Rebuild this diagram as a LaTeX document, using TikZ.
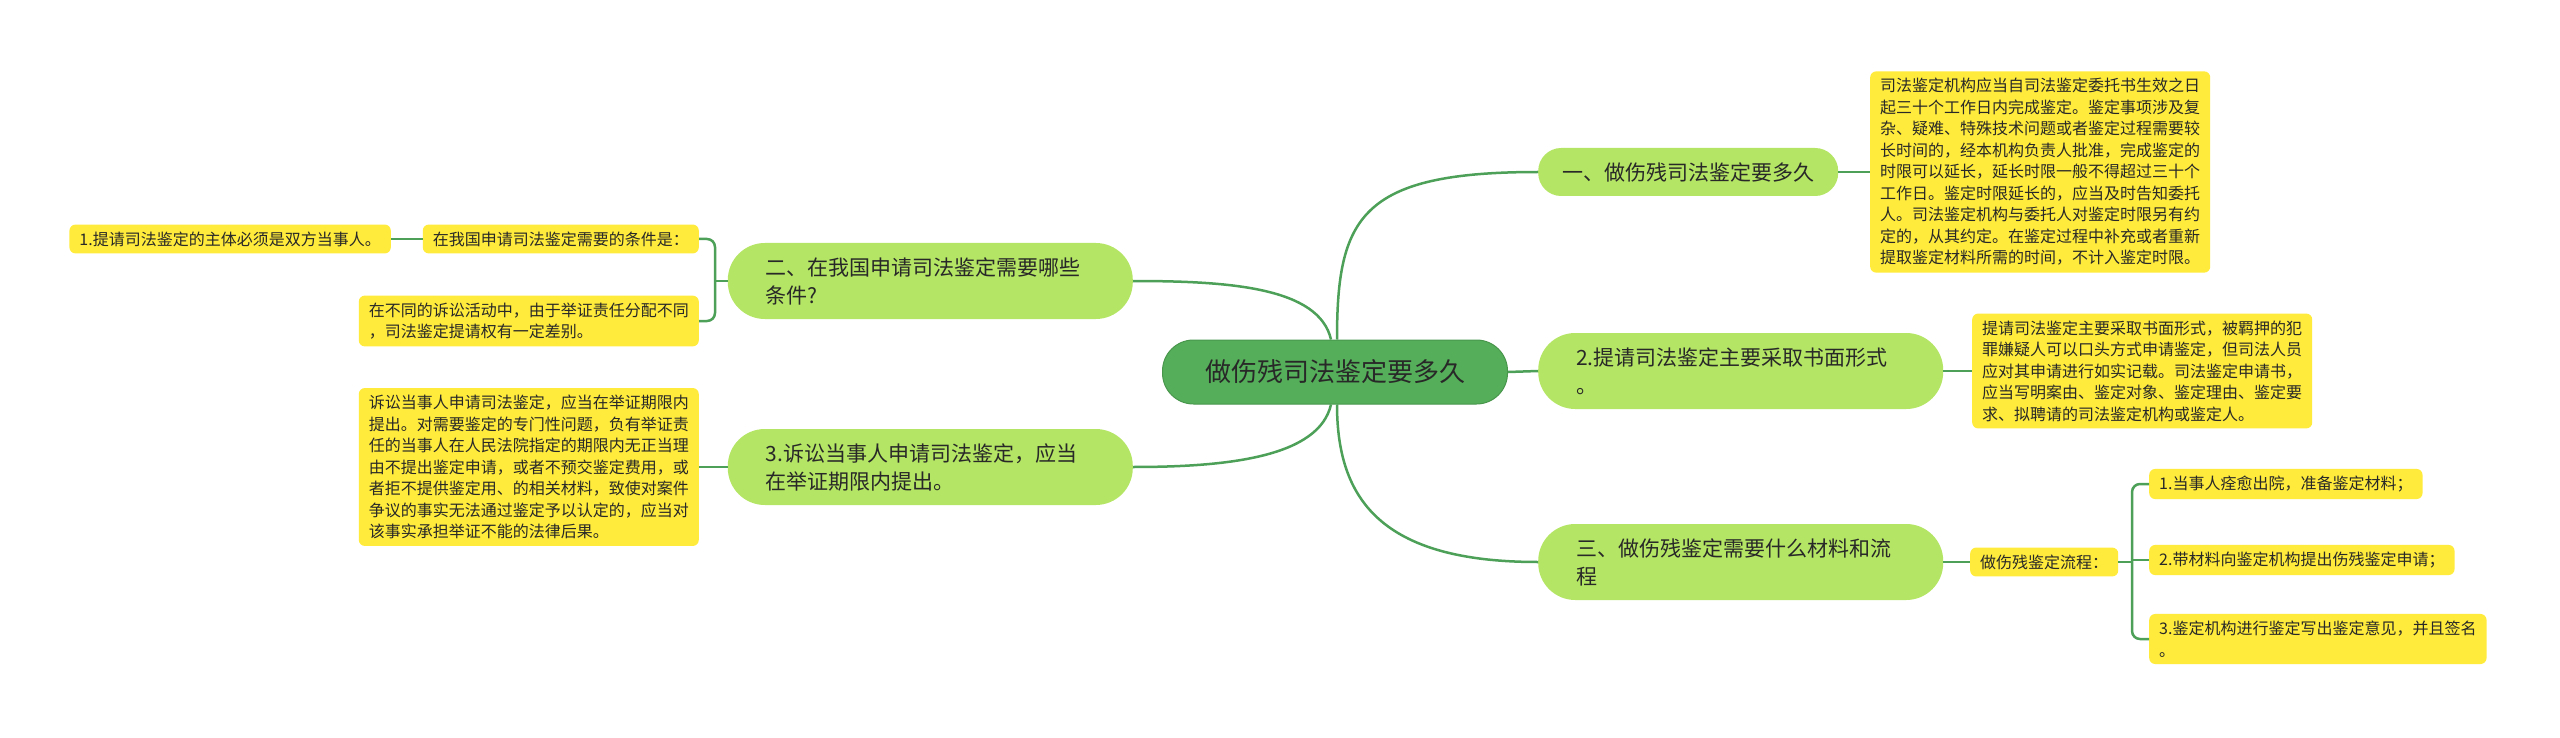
\documentclass[tikz,border=0pt]{standalone}
\usepackage{fontspec}
\setmainfont{Noto Sans CJK SC}
\definecolor{lineg}{RGB}{76,160,88}
\definecolor{rootg}{RGB}{85,175,90}
\definecolor{maing}{RGB}{180,229,100}
\definecolor{yel}{RGB}{255,235,59}
\definecolor{txt}{RGB}{40,40,40}
\begin{document}
\begin{tikzpicture}[x=1pt,y=-1pt,
 root/.style={draw=rootg!85!black, line width=1pt, fill=rootg, rounded corners=31pt, minimum width=345pt, minimum height=64pt, inner sep=0pt, font=\fontsize{26}{32}\selectfont, text=txt},
 mainone/.style={fill=maing, rounded corners=23pt, minimum height=48pt, inner xsep=24pt, inner ysep=0pt, font=\fontsize{21}{28}\selectfont, text=txt},
 maintwo/.style={fill=maing, rounded corners=37pt, minimum height=76pt, inner xsep=38pt, inner ysep=0pt, text width=329pt, align=left, font=\fontsize{21}{28}\selectfont, text=txt},
 leaf/.style={fill=yel, rounded corners=6pt, inner xsep=10pt, inner ysep=7pt, align=left, font=\fontsize{16}{21.5}\selectfont, text=txt},
 conn/.style={draw=lineg, line width=2.5pt},
]
\useasboundingbox (0,0) rectangle (2560,738);
% main nodes
\node[root] (root) at (1335,372) {做伤残司法鉴定要多久};
\node[mainone, anchor=west] (n1) at (1538,172) {一、做伤残司法鉴定要多久};
\node[maintwo, anchor=west] (n2) at (1538,371) {2.提请司法鉴定主要采取书面形式\\。};
\node[maintwo, anchor=west] (n3) at (1538,562) {三、做伤残鉴定需要什么材料和流\\程};
\node[maintwo, anchor=east] (n4) at (1133,281) {二、在我国申请司法鉴定需要哪些\\条件?};
\node[maintwo, anchor=east] (n5) at (1133,467) {3.诉讼当事人申请司法鉴定，应当\\在举证期限内提出。};
% right leaves
\node[leaf, anchor=west] (d1) at (1870,172) {司法鉴定机构应当自司法鉴定委托书生效之日\\起三十个工作日内完成鉴定。鉴定事项涉及复\\杂、疑难、特殊技术问题或者鉴定过程需要较\\长时间的，经本机构负责人批准，完成鉴定的\\时限可以延长，延长时限一般不得超过三十个\\工作日。鉴定时限延长的，应当及时告知委托\\人。司法鉴定机构与委托人对鉴定时限另有约\\定的，从其约定。在鉴定过程中补充或者重新\\提取鉴定材料所需的时间，不计入鉴定时限。};
\node[leaf, anchor=west] (d2) at (1972,371) {提请司法鉴定主要采取书面形式，被羁押的犯\\罪嫌疑人可以口头方式申请鉴定，但司法人员\\应对其申请进行如实记载。司法鉴定申请书，\\应当写明案由、鉴定对象、鉴定理由、鉴定要\\求、拟聘请的司法鉴定机构或鉴定人。};
\node[leaf, anchor=west] (flow) at (1970,562) {做伤残鉴定流程：};
\node[leaf, anchor=west] (c1) at (2149,484) {1.当事人痊愈出院，准备鉴定材料；};
\node[leaf, anchor=west] (c2) at (2149,560) {2.带材料向鉴定机构提出伤残鉴定申请；};
\node[leaf, anchor=west] (c3) at (2149,639) {3.鉴定机构进行鉴定写出鉴定意见，并且签名\\。};
% left leaves
\node[leaf, anchor=east] (q) at (699,239) {在我国申请司法鉴定需要的条件是：};
\node[leaf, anchor=east] (q1) at (391,239) {1.提请司法鉴定的主体必须是双方当事人。};
\node[leaf, anchor=east] (q2) at (699,321) {在不同的诉讼活动中，由于举证责任分配不同\\，司法鉴定提请权有一定差别。};
\node[leaf, anchor=east] (s) at (699,467) {诉讼当事人申请司法鉴定，应当在举证期限内\\提出。对需要鉴定的专门性问题，负有举证责\\任的当事人在人民法院指定的期限内无正当理\\由不提出鉴定申请，或者不预交鉴定费用，或\\者拒不提供鉴定用、的相关材料，致使对案件\\争议的事实无法通过鉴定予以认定的，应当对\\该事实承担举证不能的法律后果。};
% connectors
\coordinate (fb) at (2132,562);
\coordinate (lb) at (715,281);
\begin{scope}[on background layer/.style={}]
\draw[conn] ([xshift=2pt]root.north) .. controls +(0,-122) and +(-178,0) .. (n1.west);
\draw[conn] ([xshift=-4pt]root.north) .. controls +(-12,-52) and +(97,0) .. (n4.east);
\draw[conn] ([xshift=-4pt]root.south) .. controls +(-12,52) and +(97,0) .. (n5.east);
\draw[conn] ([xshift=2pt]root.south) .. controls +(0,94) and +(-158,0) .. (n3.west);
\draw[conn] (root.east) -- (n2.west);
\draw[conn] (n1.east) -- (d1.west);
\draw[conn] (n2.east) -- (d2.west);
\draw[conn] (n3.east) -- (flow.west);
\draw[conn] (flow.east) -- (fb);
\draw[conn, rounded corners=8pt] (c1.west) -| (fb) |- (c3.west);
\draw[conn] (c2.west) -- (c2.west -| fb);
\draw[conn] (n4.west) -- (lb);
\draw[conn, rounded corners=8pt] (q.east) -| (lb) |- (q2.east);
\draw[conn] (q1.east) -- (q.west);
\draw[conn] (n5.west) -- (s.east);
\end{scope}
\end{tikzpicture}
\end{document}
